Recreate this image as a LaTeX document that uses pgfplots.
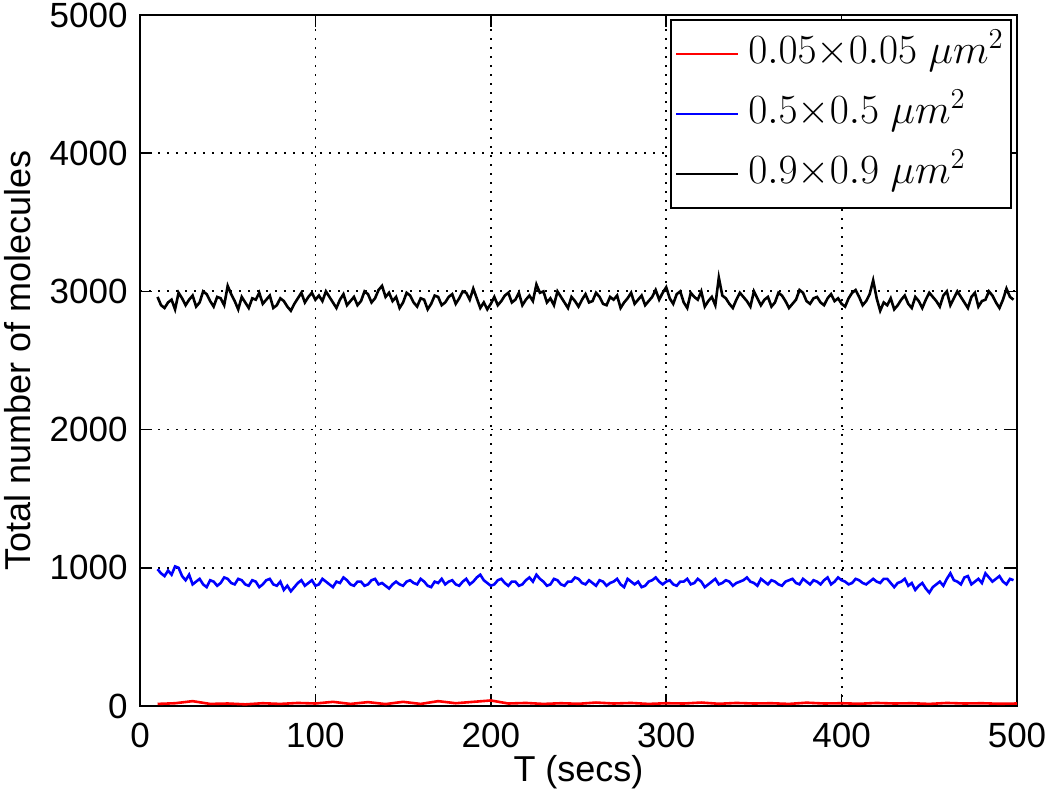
\documentclass[border=0pt]{standalone}
\usepackage{fontspec}
\setmainfont{Liberation Sans}
\usepackage{pgfplots}
\pgfplotsset{compat=1.18}

\pgfplotstableread{
x y
10 2960
12 2900
14 2880
16 2920
18 2940
20 2870
22 2990
24 2950
26 2900
28 2940
30 2970
32 2890
34 2920
36 3000
38 2980
40 2930
42 2890
44 2960
46 2950
48 2900
50 3040
52 2980
54 2930
56 2870
58 2960
60 2920
62 2880
64 2950
66 2940
68 2990
70 2910
72 2940
74 2970
76 2880
78 2900
80 2950
82 2930
84 2890
86 2860
88 2910
90 2950
92 2990
94 2920
96 2960
98 2990
100 2940
102 2970
104 2930
106 3000
108 2960
110 2920
112 2880
114 2940
116 2980
118 2900
120 2930
122 2960
124 2900
126 2930
128 3000
130 2980
132 2920
134 2950
136 3010
138 3040
140 2960
142 2990
144 2930
146 2960
148 2880
150 2920
152 2990
154 2970
156 2920
158 2890
160 2950
162 2940
164 2870
166 2910
168 2970
170 2960
172 2900
174 2920
176 2960
178 2980
180 2910
182 2950
184 3000
186 2990
188 2940
190 3020
192 2950
194 2880
196 2920
198 2870
200 2910
202 2960
204 2900
206 2930
208 2970
210 2990
212 2920
214 2940
216 2990
218 2900
220 2940
222 2970
224 2930
226 3050
228 2990
230 3000
232 2920
234 2950
236 2900
238 3000
240 2960
242 2920
244 2880
246 2960
248 2930
250 2890
252 2940
254 2980
256 2920
258 2930
260 2990
262 2960
264 2910
266 2900
268 2960
270 2940
272 2970
274 2880
276 2920
278 2950
280 2990
282 2910
284 2940
286 2970
288 2900
290 2930
292 2960
294 3010
296 2940
298 2990
300 3030
302 2950
304 2910
306 2980
308 3000
310 2920
312 2880
314 2990
316 2960
318 2940
320 3000
322 2890
324 2930
326 2960
328 2900
330 3100
332 2970
334 2950
336 2910
338 2880
340 2940
342 2990
344 2960
346 2930
348 2890
350 3000
352 2950
354 2900
356 2940
358 2960
360 2890
362 2920
364 2990
366 2970
368 2930
370 2880
372 2910
374 2940
376 3010
378 2990
380 2930
382 2910
384 2950
386 2960
388 2920
390 2900
392 2950
394 2980
396 2930
398 2950
400 2910
402 2890
404 2950
406 2990
408 3010
410 2960
412 2900
414 2930
416 2980
418 3080
420 2950
422 2860
424 2920
426 2900
428 2950
430 2870
432 2900
434 2940
436 2970
438 2910
440 2880
442 2960
444 2930
446 2880
448 2940
450 2990
452 2960
454 2930
456 2890
458 2970
460 3000
462 2900
464 2950
466 3000
468 2960
470 2920
472 2880
474 2960
476 2990
478 2890
480 2930
482 2940
484 3000
486 2970
488 2920
490 2880
492 2940
494 3020
496 2960
498 2940
}\blackdata

\pgfplotstableread{
x y
10 990
12 960
14 940
16 980
18 950
20 1010
22 1000
24 940
26 910
28 950
30 880
32 900
34 920
36 880
38 860
40 910
42 900
44 870
46 890
48 930
50 920
52 890
54 880
56 920
58 910
60 880
62 870
64 910
66 900
68 860
70 880
72 910
74 920
76 880
78 870
80 900
82 840
84 870
86 830
88 860
90 890
92 910
94 870
96 890
98 910
100 870
102 880
104 920
106 900
108 880
110 860
112 900
114 890
116 930
118 910
120 880
122 870
124 900
126 900
128 870
130 880
132 910
134 920
136 880
138 890
140 870
142 850
144 880
146 900
148 880
150 870
152 900
154 910
156 890
158 880
160 920
162 900
164 870
166 860
168 900
170 890
172 920
174 880
176 900
178 910
180 880
182 870
184 900
186 920
188 880
190 900
192 930
194 950
196 910
198 890
200 870
202 880
204 910
206 920
208 890
210 870
212 900
214 900
216 870
218 880
220 910
222 930
224 900
226 950
228 920
230 900
232 870
234 880
236 920
238 910
240 880
242 870
244 900
246 900
248 930
250 920
252 890
254 880
256 910
258 890
260 870
262 910
264 900
266 870
268 890
270 900
272 920
274 880
276 860
278 920
280 900
282 880
284 900
286 860
288 870
290 900
292 910
294 930
296 900
298 880
300 900
302 910
304 880
306 870
308 900
310 900
312 920
314 880
316 890
318 920
320 900
322 860
324 880
326 900
328 920
330 880
332 890
334 910
336 900
338 870
340 890
342 900
344 910
346 930
348 900
350 890
352 870
354 920
356 900
358 880
360 910
362 900
364 880
366 870
368 900
370 910
372 920
374 890
376 880
378 920
380 900
382 880
384 910
386 900
388 880
390 910
392 930
394 880
396 900
398 930
400 910
402 900
404 880
406 890
408 920
410 910
412 890
414 880
416 900
418 920
420 900
422 890
424 920
426 920
428 890
430 860
432 890
434 900
436 920
438 870
440 890
442 840
444 870
446 890
448 850
450 820
452 860
454 880
456 900
458 870
460 920
462 960
464 910
466 900
468 880
470 930
472 940
474 880
476 900
478 920
480 890
482 960
484 930
486 900
488 920
490 940
492 900
494 880
496 920
498 910
}\bluedata

\pgfplotstableread{
x y
10 15
20 20
30 35
40 15
50 18
60 12
70 20
80 15
90 22
100 18
110 30
120 15
130 28
140 14
150 30
160 15
170 35
180 20
190 30
200 40
210 18
220 22
230 15
240 20
250 16
260 25
270 18
280 22
290 15
300 20
310 18
320 25
330 16
340 22
350 18
360 20
370 15
380 24
390 18
400 20
410 16
420 22
430 18
440 20
450 15
460 22
470 18
480 20
490 16
500 18
}\reddata

\begin{document}
\begin{tikzpicture}
\begin{axis}[
    name=ax,
    scale only axis,
    width=438.5pt,
    height=345.5pt,
    xmin=0, xmax=500,
    ymin=0, ymax=5000,
    xtick={0,100,...,500},
    ytick={0,1000,...,5000},
    /pgf/number format/1000 sep={},
    /pgf/number format/assume math mode=true,
    tick align=inside,
    major tick length=6pt,
    tick style={black, line width=0.8pt},
    axis line style={line width=1pt},
    grid=major,
    major grid style={black, line width=0.9pt, dash pattern=on 1.2pt off 3.3pt},
    ticklabel style={font=\fontsize{17.5}{20}\selectfont},
    xticklabel style={inner sep=0pt, anchor=north, yshift=-8.5pt},
    yticklabel style={inner sep=0pt, anchor=east, xshift=-6pt},
    xlabel={T (secs)},
    ylabel={Total number of molecules},
    every axis x label/.style={at={(axis description cs:0.5,0)}, anchor=center,
        yshift=-33pt, font=\fontsize{18}{21}\selectfont},
    every axis y label/.style={at={(axis description cs:0,0.5)}, rotate=90, anchor=center,
        yshift=61pt, font=\fontsize{18}{21}\selectfont},
    legend cell align=left,
    legend style={
        at={(0.994,0.994)}, anchor=north east,
        draw=black, line width=1pt,
        font=\fontsize{20.5}{24}\selectfont,
        inner sep=2pt,
        nodes={inner xsep=1.5pt, inner ysep=6pt, text height=13.5pt, text depth=4.5pt},
        row sep=0pt,
        /tikz/every odd column/.append style={column sep=3pt},
    },
    legend image code/.code={\draw[#1, line width=1pt] (0pt,0pt) -- (31pt,0pt);},
]
\addplot[red, line width=1.3pt] table {\reddata};
\addplot[blue, line width=1.3pt] table {\bluedata};
\addplot[black, line width=1.3pt] table {\blackdata};
\legend{$0.05{\times}0.05\ \mu m^2$, $0.5{\times}0.5\ \mu m^2$, $0.9{\times}0.9\ \mu m^2$}
\end{axis}
\pgfresetboundingbox
\path[use as bounding box] ([shift={(-70pt,-45.5pt)}]ax.south west) rectangle ([shift={(16.5pt,7.5pt)}]ax.north east);
\end{tikzpicture}
\end{document}
